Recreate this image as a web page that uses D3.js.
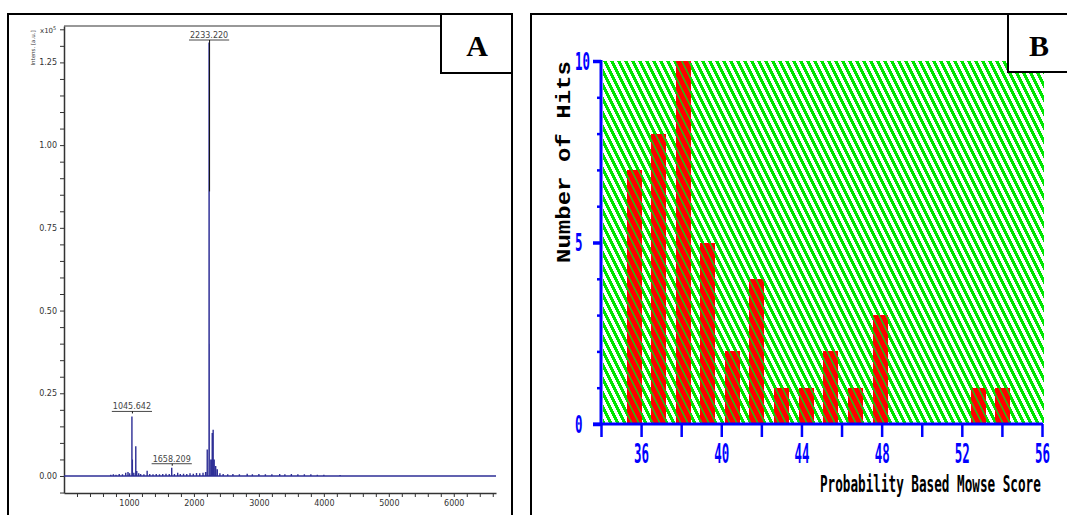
<!DOCTYPE html>
<html>
<head>
<meta charset="utf-8">
<script src="https://cdn.jsdelivr.net/npm/d3@7"></script>
<style>
  body { margin: 0; background: #fff; }
  svg { display: block; }
</style>
</head>
<body>
<div id="chart"></div>
<script>
// panel A: MALDI spectrum, stick peaks (m/z, intensity in 1e5 a.u.)
var peakMz = [720, 760, 800, 850, 900, 950, 985, 1010, 1045.6, 1052, 1075, 1105, 1120, 1150, 1180, 1230, 1280, 1320,
  1370, 1420, 1470, 1520, 1570, 1620, 1658.2, 1700, 1750, 1790, 1840, 1890, 1940, 1990, 2040, 2090, 2140, 2180, 2205,
  2233.2, 2234.2, 2235.2, 2260, 2282, 2296, 2312, 2335, 2360, 2400, 2450, 2520, 2600, 2700, 2820, 2900, 3000, 3100,
  3200, 3320, 3400, 3500, 3600, 3700, 3800, 3900, 4000, 4250]
var peakInt = [0.004, 0.005, 0.004, 0.006, 0.005, 0.01, 0.012, 0.008, 0.18, 0.05, 0.01, 0.09, 0.015, 0.008, 0.006, 0.005, 0.016, 0.006,
  0.005, 0.006, 0.005, 0.006, 0.007, 0.006, 0.025, 0.006, 0.01, 0.006, 0.007, 0.006, 0.008, 0.007, 0.009, 0.008, 0.01, 0.012, 0.08,
  1.31, 0.86, 0.40, 0.05, 0.13, 0.14, 0.05, 0.03, 0.02, 0.008, 0.006, 0.005, 0.006, 0.005, 0.007, 0.005, 0.006, 0.005,
  0.005, 0.006, 0.005, 0.006, 0.005, 0.005, 0.005, 0.004, 0.004, 0.003]
var labelMz = [1045.642, 1658.209, 2233.220]
var labelInt = [0.18, 0.025, 0.86]
var xTicksA = [1000, 2000, 3000, 4000, 5000, 6000]
var yTicksA = [0, 0.25, 0.5, 0.75, 1.0, 1.25]

// panel B: Mascot score histogram
var binCenter = [35.65, 36.87, 38.10, 39.33, 40.55, 41.78, 43.01, 44.23, 45.46, 46.69, 47.92, 52.82, 54.05]
var hits = [7, 8, 10, 5, 2, 4, 1, 1, 2, 1, 3, 1, 1]
var xTicksB = [36, 40, 44, 48, 52, 56]
var yTicksB = [0, 5, 10]

var W = 1067, H = 515
var svg = d3.select("#chart").append("svg")
    .attr("width", W)
    .attr("height", H)

// squeeze a text horizontally to a given width (pixel font look)
function squeeze(t, width, pre){
    var w = t.node().getComputedTextLength()
    t.attr("transform", (pre || "") + " scale(" + (width / w) + ",1)")
}

var defs = svg.append("defs")
// green hatch on white
var pg = defs.append("pattern")
    .attr("id", "hatch")
    .attr("patternUnits", "userSpaceOnUse")
    .attr("width", 7).attr("height", 14)
    .attr("x", 603).attr("y", 61)
pg.append("rect").attr("width", 7).attr("height", 14).attr("fill", "#fff")
pg.append("path")
    .attr("d", "M0,0L3.6,0L10.6,14L7,14Z M-7,0L-3.4,0L3.6,14L0,14Z")
    .attr("fill", "#00e600")
    .attr("shape-rendering", "crispEdges")
// red bars with thin green hatch
var pr = defs.append("pattern")
    .attr("id", "hatchRed")
    .attr("patternUnits", "userSpaceOnUse")
    .attr("width", 7).attr("height", 14)
    .attr("x", 603).attr("y", 61)
pr.append("rect").attr("width", 7).attr("height", 14).attr("fill", "#ff0000")
pr.append("path")
    .attr("d", "M1,0L2.6,0L9.6,14L8,14Z M-6,0L-4.4,0L2.6,14L1,14Z")
    .attr("fill", "#14cc14")

// ---------------- panel A ----------------
svg.append("rect")
    .attr("x", 8).attr("y", 14).attr("width", 504).attr("height", 530)
    .attr("fill", "none").attr("stroke", "#000").attr("stroke-width", 2)

var xA = d3.scaleLinear().domain([0, 6650]).range([64, 496])
var yA = d3.scaleLinear().domain([-0.0514, 1.36]).range([493, 26])

svg.append("line")
    .attr("x1", 64).attr("x2", 496).attr("y1", 26).attr("y2", 26)
    .attr("stroke", "#333").attr("stroke-width", 1.2)

var minorX = d3.range(200, 6650, 200)
var gxA = svg.append("g")
    .attr("transform", "translate(0,493)")
    .call(d3.axisBottom(xA).tickValues(minorX).tickSize(4).tickSizeOuter(0)
        .tickFormat(function(d){ return xTicksA.indexOf(d) >= 0 ? d : "" }))
gxA.select(".domain").attr("stroke", "#333").attr("stroke-width", 1.5)
gxA.selectAll("line").attr("stroke", "#333")
gxA.selectAll("text").attr("fill", "#333").attr("font-size", 8).attr("font-family", "DejaVu Sans").attr("y", 7)

var minorY = d3.range(-1, 28).map(function(i){ return Math.round(i * 5) / 100 })
var gyA = svg.append("g")
    .attr("transform", "translate(64,0)")
    .call(d3.axisLeft(yA).tickValues(minorY).tickSize(4).tickSizeOuter(0)
        .tickFormat(function(d){ return yTicksA.indexOf(d) >= 0 ? d3.format(".2f")(d) : "" }))
gyA.select(".domain").attr("stroke", "#333").attr("stroke-width", 1.5)
gyA.selectAll("line").attr("stroke", "#333")
gyA.selectAll("text").attr("fill", "#333").attr("font-size", 8).attr("font-family", "DejaVu Sans").attr("x", -7)

svg.append("text")
    .attr("x", 40).attr("y", 33)
    .attr("font-size", 7).attr("font-family", "DejaVu Sans").attr("fill", "#333")
    .text("x10")
    .append("tspan").attr("dy", -3).attr("font-size", 5).text("5")
svg.append("text")
    .attr("transform", "translate(35,48) rotate(-90)")
    .attr("text-anchor", "middle")
    .attr("font-size", 5.5).attr("font-family", "DejaVu Sans").attr("fill", "#333")
    .text("Intens. [a.u.]")

// spectrum as stick peaks joined along the baseline
var pts = [[xA.domain()[0], 0]]
var order = d3.range(peakMz.length).sort(function(a, b){ return peakMz[a] - peakMz[b] })
order.forEach(function(i){
    pts.push([peakMz[i] - 0.45, 0], [peakMz[i], peakInt[i]], [peakMz[i] + 0.45, 0])
})
pts.push([xA.domain()[1], 0])
svg.append("path")
    .datum(pts)
    .attr("fill", "none")
    .attr("stroke", "#2e2f96")
    .attr("stroke-width", 1.4)
    .attr("d", d3.line().x(function(d){ return xA(d[0]) }).y(function(d){ return yA(d[1]) }))

// peak labels
var labY = [yA(0.18) - 7, yA(0.025) - 6, 38]
labelMz.forEach(function(m, i){
    var cx = xA(m)
    var t = svg.append("text")
        .attr("x", cx).attr("y", labY[i])
        .attr("text-anchor", "middle")
        .attr("font-size", 8).attr("font-family", "DejaVu Sans").attr("fill", "#444")
        .text(d3.format(".3f")(m))
    var w = t.node().getComputedTextLength()
    svg.append("line")
        .attr("x1", cx - w / 2 - 1).attr("x2", cx + w / 2 + 1)
        .attr("y1", labY[i] + 2).attr("y2", labY[i] + 2)
        .attr("stroke", "#333").attr("stroke-width", 0.9)
    svg.append("line")
        .attr("x1", cx + 0.5).attr("x2", cx + 0.5)
        .attr("y1", labY[i] + 2).attr("y2", i == 2 ? yA(labelInt[i]) : labY[i] + 4)
        .attr("stroke", "#111").attr("stroke-width", 1)
})

// A box
svg.append("rect")
    .attr("x", 441).attr("y", 14).attr("width", 71).attr("height", 59)
    .attr("fill", "#fff").attr("stroke", "#000").attr("stroke-width", 2)
svg.append("text")
    .attr("x", 477).attr("y", 56)
    .attr("text-anchor", "middle")
    .attr("font-family", "Liberation Serif").attr("font-weight", "bold").attr("font-size", 30)
    .text("A")

// ---------------- panel B ----------------
svg.append("rect")
    .attr("x", 531).attr("y", 14).attr("width", 600).attr("height", 530)
    .attr("fill", "none").attr("stroke", "#000").attr("stroke-width", 2)

var xB = d3.scaleLinear().domain([34, 56]).range([601, 1042])
var yB = d3.scaleLinear().domain([0, 10]).range([424, 61])
var barW = 15

svg.append("rect")
    .attr("x", 603).attr("y", yB(10)).attr("width", 1044 - 603).attr("height", yB(0) - yB(10) - 1)
    .attr("fill", "url(#hatch)")

svg.selectAll(".bar")
    .data(hits)
    .enter().append("rect")
    .attr("class", "bar")
    .attr("x", function(d, i){ return Math.round(xB(binCenter[i]) - barW / 2) })
    .attr("y", function(d){ return yB(d) })
    .attr("width", barW)
    .attr("height", function(d){ return yB(0) - yB(d) })
    .attr("fill", "url(#hatchRed)")
    .attr("shape-rendering", "crispEdges")

var blue = "#0000ff"
var gxB = svg.append("g")
    .attr("transform", "translate(0,424)")
    .call(d3.axisBottom(xB).tickValues(d3.range(34, 57, 2)).tickSize(13).tickSizeOuter(0)
        .tickFormat(function(d){ return xTicksB.indexOf(d) >= 0 ? d : "" }))
gxB.select(".domain").remove()
gxB.selectAll("line").attr("stroke", blue).attr("stroke-width", 2.5)
gxB.selectAll("text")
    .attr("fill", blue)
    .attr("y", 39).attr("dy", null)
    .attr("font-family", "DejaVu Sans Mono").attr("font-weight", "bold").attr("font-size", 27)
    .each(function(d){ if (xTicksB.indexOf(d) >= 0) squeeze(d3.select(this), 15) })
svg.append("line")
    .attr("x1", 593).attr("x2", 1043).attr("y1", 424).attr("y2", 424)
    .attr("stroke", blue).attr("stroke-width", 3)

var gyB = svg.append("g")
    .attr("transform", "translate(601,0)")
    .call(d3.axisLeft(yB).tickValues(d3.range(0, 11)).tickSize(4).tickSizeOuter(0)
        .tickFormat(function(d){ return "" }))
gyB.select(".domain").remove()
gyB.selectAll("line").attr("stroke", blue).attr("stroke-width", 2.5)
gyB.selectAll(".tick").filter(function(d){ return yTicksB.indexOf(d) >= 0 })
    .select("line").attr("x2", -8).attr("stroke-width", 3.5)
svg.append("line")
    .attr("x1", 601).attr("x2", 601).attr("y1", 60).attr("y2", 425)
    .attr("stroke", blue).attr("stroke-width", 3)
svg.selectAll(".ylabB")
    .data(yTicksB)
    .enter().append("text")
    .attr("class", "ylabB")
    .attr("fill", blue)
    .attr("font-family", "DejaVu Sans Mono").attr("font-weight", "bold").attr("font-size", 24)
    .text(function(d){ return d })
    .each(function(d){
        squeeze(d3.select(this), d >= 10 ? 15 : 7.5, "translate(575," + (yB(d) + 8.5) + ")")
    })

var xt = svg.append("text")
    .attr("font-family", "DejaVu Sans Mono").attr("font-weight", "bold").attr("font-size", 23)
    .attr("fill", "#000")
    .text("Probability Based Mowse Score")
squeeze(xt, 221, "translate(820,492)")

var yt = svg.append("text")
    .attr("font-family", "Liberation Mono").attr("font-weight", "bold").attr("font-size", 21)
    .attr("fill", "#000")
    .text("Number of Hits")
squeeze(yt, 202, "translate(570,263) rotate(-90)")

// B box
svg.append("rect")
    .attr("x", 1008).attr("y", 14).attr("width", 70).attr("height", 58)
    .attr("fill", "#fff").attr("stroke", "#000").attr("stroke-width", 2)
svg.append("text")
    .attr("x", 1039).attr("y", 56)
    .attr("text-anchor", "middle")
    .attr("font-family", "Liberation Serif").attr("font-weight", "bold").attr("font-size", 30)
    .text("B")
</script>
</body>
</html>
